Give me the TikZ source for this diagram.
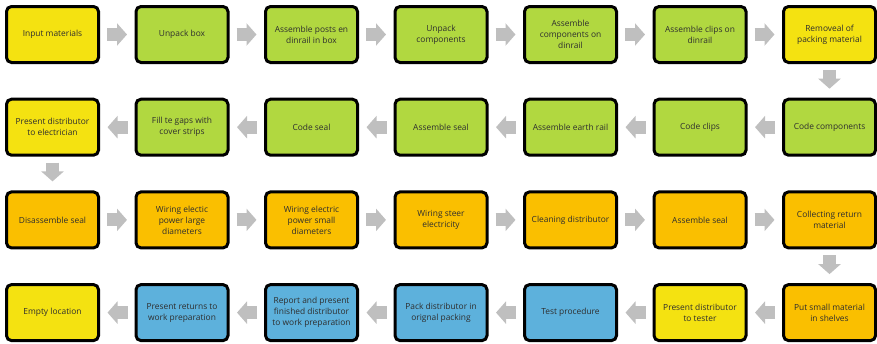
\documentclass[tikz,border=0pt]{standalone}
\usepackage{fontspec}
\setmainfont{Open Sans}
\usepackage{tikz}
\usetikzlibrary{positioning,arrows.meta}
\definecolor{stepyellow}{HTML}{F4E211}
\definecolor{stepgreen}{HTML}{B1D840}
\definecolor{steporange}{HTML}{FABF00}
\definecolor{stepblue}{HTML}{5DB1DC}
\definecolor{flowgray}{HTML}{BFBFBF}
\definecolor{textgray}{HTML}{2E2E2E}
\tikzset{
  stepbox/.style={draw=black, line width=3pt, rounded corners=5pt, align=center,
    minimum width=92pt, minimum height=56pt, inner sep=2pt, text=textgray,
    font=\fontsize{8.4}{11}\selectfont},
  yellowbox/.style={stepbox, fill=stepyellow},
  greenbox/.style={stepbox, fill=stepgreen},
  orangebox/.style={stepbox, fill=steporange},
  bluebox/.style={stepbox, fill=stepblue},
  flow/.style={draw=flowgray, line width=13pt, -{Triangle[width=22pt,length=10pt]},
    shorten <=7pt, shorten >=7.5pt},
  flowdown/.style={flow, shorten <=6pt, shorten >=9pt}
}
\begin{document}
\begin{tikzpicture}[node distance=33.7pt and 34.5pt]
  \useasboundingbox (0,0) rectangle (877pt,-343pt);
  % row 1, left to right
  \node[yellowbox] (input) at (52.5pt,-34.5pt) {Input materials};
  \node[greenbox, right=of input] (unpackbox) {Unpack box};
  \node[greenbox, right=of unpackbox] (posts) {Assemble posts en\\dinrail in box};
  \node[greenbox, right=of posts] (unpackcomp) {Unpack\\components};
  \node[greenbox, right=of unpackcomp] (asmcomp) {Assemble\\components on\\dinrail};
  \node[greenbox, right=of asmcomp] (asmclips) {Assemble clips on\\dinrail};
  \node[yellowbox, right=of asmclips] (removal) {Removeal of\\packing material};
  % row 2, right to left
  \node[greenbox, below=of removal] (codecomp) {Code components};
  \node[greenbox, left=of codecomp] (codeclips) {Code clips};
  \node[greenbox, left=of codeclips] (earthrail) {Assemble earth rail};
  \node[greenbox, left=of earthrail] (asmseal) {Assemble seal};
  \node[greenbox, left=of asmseal] (codeseal) {Code seal};
  \node[greenbox, left=of codeseal] (fillgaps) {Fill te gaps with\\cover strips};
  \node[yellowbox, left=of fillgaps] (toelec) {Present distributor\\to electrician};
  % row 3, left to right
  \node[orangebox, below=of toelec] (disseal) {Disassemble seal};
  \node[orangebox, right=of disseal] (wirelarge) {Wiring electic\\power large\\diameters};
  \node[orangebox, right=of wirelarge] (wiresmall) {Wiring electric\\power small\\diameters};
  \node[orangebox, right=of wiresmall] (wiresteer) {Wiring steer\\electricity};
  \node[orangebox, right=of wiresteer] (cleaning) {Cleaning distributor};
  \node[orangebox, right=of cleaning] (asmsealb) {Assemble seal};
  \node[orangebox, right=of asmsealb] (collect) {Collecting return\\material};
  % row 4, right to left
  \node[orangebox, below=of collect] (shelves) {Put small material\\in shelves};
  \node[yellowbox, left=of shelves] (totester) {Present distributor\\to tester};
  \node[bluebox, left=of totester] (test) {Test procedure};
  \node[bluebox, left=of test] (pack) {Pack distributor in\\orignal packing};
  \node[bluebox, left=of pack] (report) {Report and present\\finished distributor\\to work preparation};
  \node[bluebox, left=of report] (returns) {Present returns to\\work preparation};
  \node[yellowbox, left=of returns] (empty) {Empty location};
  % connectors
  \draw[flow] (input) -- (unpackbox);
  \draw[flow] (unpackbox) -- (posts);
  \draw[flow] (posts) -- (unpackcomp);
  \draw[flow] (unpackcomp) -- (asmcomp);
  \draw[flow] (asmcomp) -- (asmclips);
  \draw[flow] (asmclips) -- (removal);
  \draw[flowdown] (removal) -- (codecomp);
  \draw[flow] (codecomp) -- (codeclips);
  \draw[flow] (codeclips) -- (earthrail);
  \draw[flow] (earthrail) -- (asmseal);
  \draw[flow] (asmseal) -- (codeseal);
  \draw[flow] (codeseal) -- (fillgaps);
  \draw[flow] (fillgaps) -- (toelec);
  \draw[flowdown] (toelec) -- (disseal);
  \draw[flow] (disseal) -- (wirelarge);
  \draw[flow] (wirelarge) -- (wiresmall);
  \draw[flow] (wiresmall) -- (wiresteer);
  \draw[flow] (wiresteer) -- (cleaning);
  \draw[flow] (cleaning) -- (asmsealb);
  \draw[flow] (asmsealb) -- (collect);
  \draw[flowdown] (collect) -- (shelves);
  \draw[flow] (shelves) -- (totester);
  \draw[flow] (totester) -- (test);
  \draw[flow] (test) -- (pack);
  \draw[flow] (pack) -- (report);
  \draw[flow] (report) -- (returns);
  \draw[flow] (returns) -- (empty);
\end{tikzpicture}
\end{document}
